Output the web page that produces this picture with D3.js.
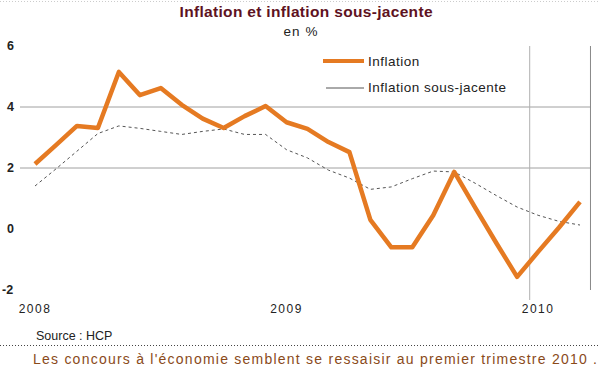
<!DOCTYPE html>
<html>
<head>
<meta charset="utf-8">
<script src="https://cdn.jsdelivr.net/npm/d3@7"></script>
<style>
  body { margin: 0; background: #fff; }
  svg { display: block; font-family: "Liberation Sans", Arial, sans-serif; }
</style>
</head>
<body>
<div id="chart"></div>
<script>
// monthly, Jan 2008 .. Mar 2010
var months = d3.range(27);
var inflation = [2.13, 2.75, 3.38, 3.31, 5.15, 4.39, 4.62, 4.07, 3.62, 3.31, 3.7, 4.03,
                 3.5, 3.28, 2.85, 2.52, 0.3, -0.6, -0.6, 0.45, 1.87, 0.7, -0.45, -1.57,
                 -0.75, 0.05, 0.89];
var sousJacente = [1.41, 1.97, 2.55, 3.13, 3.38, 3.3, 3.2, 3.1, 3.2, 3.28, 3.1, 3.1,
                   2.6, 2.33, 1.93, 1.67, 1.3, 1.38, 1.65, 1.9, 1.87, 1.5, 1.1, 0.72,
                   0.45, 0.25, 0.13];
var yTicks = [6, 4, 2, 0, -2];
var gridValues = [4, 2];
var yearLabels = [{i: 0, label: "2008"}, {i: 12, label: "2009"}, {i: 24, label: "2010"}];
var seriesNames = ["Inflation", "Inflation sous-jacente"];

var width = 600, height = 372;
var svg = d3.select("#chart").append("svg")
    .attr("width", width)
    .attr("height", height);

var x = d3.scaleLinear().domain([0, 26]).range([35, 580]);
var y = d3.scaleLinear().domain([-2, 6]).range([290, 46]);

// faint top rule
svg.append("line")
    .attr("x1", 0).attr("x2", width).attr("y1", 1.5).attr("y2", 1.5)
    .attr("stroke", "#ccc").attr("stroke-dasharray", "1,2");

// title
svg.append("text")
    .attr("x", 306).attr("y", 17)
    .attr("text-anchor", "middle")
    .attr("font-size", 15.5).attr("font-weight", "bold")
    .attr("fill", "#5e1222")
    .attr("textLength", 253)
    .text("Inflation et inflation sous-jacente");
svg.append("text")
    .attr("x", 301).attr("y", 36)
    .attr("text-anchor", "middle")
    .attr("font-size", 13.5)
    .attr("fill", "#222")
    .attr("letter-spacing", 1)
    .text("en %");

// gridlines
svg.append("g").selectAll("line")
    .data(gridValues).enter().append("line")
    .attr("x1", 20).attr("x2", 591)
    .attr("y1", function(d) { return y(d); })
    .attr("y2", function(d) { return y(d); })
    .attr("stroke", "#a0a0a0").attr("stroke-width", 1);

// vertical separators (year 2010 marker and right border)
var sepIndex = [23.6, 26.5];
svg.append("g").selectAll("line")
    .data(sepIndex).enter().append("line")
    .attr("x1", function(d) { return x(d); })
    .attr("x2", function(d) { return x(d); })
    .attr("y1", y(6)).attr("y2", function(d, i) { return i === 0 ? 300 : 290; })
    .attr("stroke", function(d, i) { return i === 0 ? "#b0b0b0" : "#888"; })
    .attr("stroke-width", 1);

// y axis labels
svg.append("g").selectAll("text")
    .data(yTicks).enter().append("text")
    .attr("x", function(d) { return d < 0 ? 2 : 7; })
    .attr("y", function(d) { return y(d) + 4; })
    .attr("font-size", 12.5).attr("font-weight", "bold")
    .attr("fill", "#222")
    .text(function(d) { return d; });

// year labels
svg.append("g").selectAll("text")
    .data(yearLabels).enter().append("text")
    .attr("x", function(d) { return x(d.i); })
    .attr("y", 313)
    .attr("text-anchor", "middle")
    .attr("font-size", 12)
    .attr("letter-spacing", 1.5)
    .attr("fill", "#222")
    .text(function(d) { return d.label; });

var line = d3.line()
    .x(function(d, i) { return x(months[i]); })
    .y(function(d) { return y(d); });

svg.append("path")
    .datum(sousJacente)
    .attr("d", line)
    .attr("fill", "none")
    .attr("stroke", "#555")
    .attr("stroke-width", 1)
    .attr("stroke-dasharray", "3,3");

svg.append("path")
    .datum(inflation)
    .attr("d", line)
    .attr("fill", "none")
    .attr("stroke", "#e57a22")
    .attr("stroke-width", 4.5)
    .attr("stroke-linejoin", "round");

// legend
var legend = svg.append("g");
legend.append("line")
    .attr("x1", 323).attr("x2", 364).attr("y1", 61).attr("y2", 61)
    .attr("stroke", "#e57a22").attr("stroke-width", 4);
legend.append("line")
    .attr("x1", 326).attr("x2", 364).attr("y1", 88).attr("y2", 88)
    .attr("stroke", "#555").attr("stroke-width", 1);
legend.selectAll("text")
    .data(seriesNames).enter().append("text")
    .attr("x", 368)
    .attr("y", function(d, i) { return 66 + i * 26; })
    .attr("font-size", 13.5)
    .attr("letter-spacing", 0.5)
    .attr("fill", "#222")
    .text(function(d) { return d; });

// source and footer
svg.append("text")
    .attr("x", 36).attr("y", 340)
    .attr("font-size", 12.5)
    .attr("fill", "#222")
    .text("Source : HCP");
svg.append("line")
    .attr("x1", 0).attr("x2", width).attr("y1", 345.5).attr("y2", 345.5)
    .attr("stroke", "#444").attr("stroke-dasharray", "1,2");
svg.append("text")
    .attr("x", 33).attr("y", 364)
    .attr("font-size", 14)
    .attr("fill", "#8a4a1a")
    .attr("textLength", 564)
    .text("Les concours à l'économie semblent se ressaisir au premier trimestre 2010 .");
</script>
</body>
</html>
